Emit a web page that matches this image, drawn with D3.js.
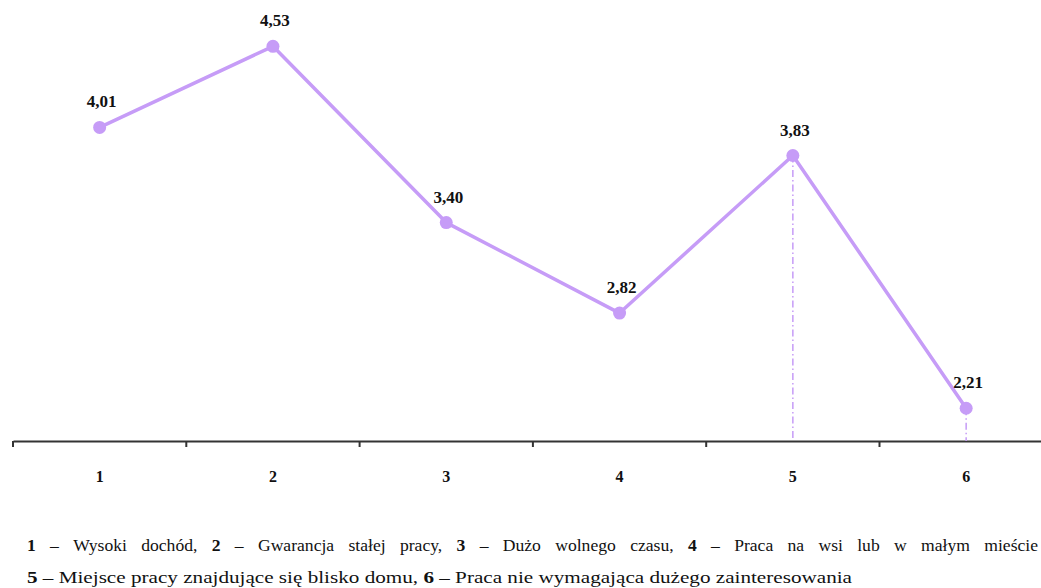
<!DOCTYPE html>
<html>
<head>
<meta charset="utf-8">
<script src="https://cdn.jsdelivr.net/npm/d3@7"></script>
<style>
  html, body { margin: 0; padding: 0; background: #fff; }
  svg { display: block; }
</style>
</head>
<body>
<svg id="chart" width="1041" height="588"></svg>
<script>
// Mean ratings of job characteristics
const categories = ["1", "2", "3", "4", "5", "6"];
const values = [4.01, 4.53, 3.40, 2.82, 3.83, 2.21];
const dropLineCategories = ["5", "6"];

// Footnote explaining category numbers: [number, description]
const legendLine1 = [
  ["1", "Wysoki dochód,"],
  ["2", "Gwarancja stałej pracy,"],
  ["3", "Dużo wolnego czasu,"],
  ["4", "Praca na wsi lub w małym mieście"]
];
const legendLine2 = [
  ["5", "Miejsce pracy znajdujące się blisko domu,"],
  ["6", "Praca nie wymagająca dużego zainteresowania"]
];

const FONT = "'Liberation Serif', 'DejaVu Serif', serif";
const lineColor = "#c69cf7";
const svg = d3.select("#chart").attr("font-family", FONT);

// One extra slot to the right so the axis runs off the edge
const x = d3.scaleBand()
  .domain([...categories, "_"])
  .range([13, 13 + 7 * 173.3])
  .paddingInner(0).paddingOuter(0);

const y = d3.scaleLinear().domain([2, 5]).range([441, -27]);

const cx = c => x(c) + x.bandwidth() / 2;
const fmt = v => d3.format(".2f")(v).replace(".", ",");
const data = categories.map((c, i) => ({ c, v: values[i] }));

// Axis line with ticks at category boundaries
const axisY = y(2);
const axisG = svg.append("g").attr("transform", `translate(0,${axisY})`);
axisG.call(d3.axisBottom(x).tickValues([]).tickSizeOuter(0));
axisG.select(".domain").attr("stroke", "#333").attr("stroke-width", 2);
const boundaries = [...categories, "_"].map(c => x(c));
axisG.selectAll("line.bound").data(boundaries).join("line")
  .attr("class", "bound")
  .attr("x1", d => d).attr("x2", d => d)
  .attr("y1", 0).attr("y2", 6)
  .attr("stroke", "#333").attr("stroke-width", 2);

// Category labels
svg.append("g").selectAll("text").data(categories).join("text")
  .attr("x", d => cx(d))
  .attr("y", 482)
  .attr("text-anchor", "middle")
  .attr("font-family", FONT)
  .attr("font-size", 16)
  .attr("font-weight", "bold")
  .attr("fill", "#111")
  .text(d => d);

// Dash-dot drop lines
svg.append("g").selectAll("line")
  .data(data.filter(d => dropLineCategories.includes(d.c))).join("line")
  .attr("x1", d => cx(d.c)).attr("x2", d => cx(d.c))
  .attr("y1", d => y(d.v)).attr("y2", axisY)
  .attr("stroke", lineColor)
  .attr("stroke-width", 1.5)
  .attr("stroke-dasharray", "7,3,1.5,3");

// Series line
const line = d3.line().x(d => cx(d.c)).y(d => y(d.v));
svg.append("path").datum(data)
  .attr("d", line)
  .attr("fill", "none")
  .attr("stroke", lineColor)
  .attr("stroke-width", 3.5)
  .attr("stroke-linejoin", "round");

// Markers
svg.append("g").selectAll("circle").data(data).join("circle")
  .attr("cx", d => cx(d.c)).attr("cy", d => y(d.v))
  .attr("r", 6.5)
  .attr("fill", lineColor);

// Value labels
svg.append("g").selectAll("text").data(data).join("text")
  .attr("x", d => cx(d.c) + 2)
  .attr("y", d => y(d.v) - 20)
  .attr("text-anchor", "middle")
  .attr("font-family", FONT)
  .attr("font-size", 17)
  .attr("font-weight", "bold")
  .attr("fill", "#111")
  .text(d => fmt(d.v));

// Footnote: lay out words, optionally justified to a target width
function layoutLine(items, baseline, x0, x1, justify) {
  const words = [];
  items.forEach(([num, desc]) => {
    words.push({ t: num, bold: true });
    words.push({ t: "–", bold: false });
    desc.split(" ").forEach(w => words.push({ t: w, bold: false }));
  });
  const g = svg.append("g");
  const nodes = words.map(w => g.append("text")
    .attr("y", baseline)
    .attr("font-family", FONT)
    .attr("font-size", 16)
    .attr("font-weight", w.bold ? "bold" : "normal")
    .attr("fill", "#111")
    .text(w.t));
  const widths = nodes.map(n => n.node().getComputedTextLength());
  const total = d3.sum(widths);
  const scale = justify ? 1.1 : (x1 - x0) / (total + 4 * (words.length - 1));
  const scaled = widths.map(w => w * scale);
  const gap = justify
    ? ((x1 - x0) - d3.sum(scaled)) / (words.length - 1)
    : 4 * scale;
  let pos = x0;
  nodes.forEach((n, i) => {
    n.attr("x", pos)
     .attr("textLength", scaled[i])
     .attr("lengthAdjust", "spacingAndGlyphs");
    pos += scaled[i] + gap;
  });
}

layoutLine(legendLine1, 551, 27, 1038, true);
layoutLine(legendLine2, 583, 27, 852, false);
</script>
</body>
</html>
